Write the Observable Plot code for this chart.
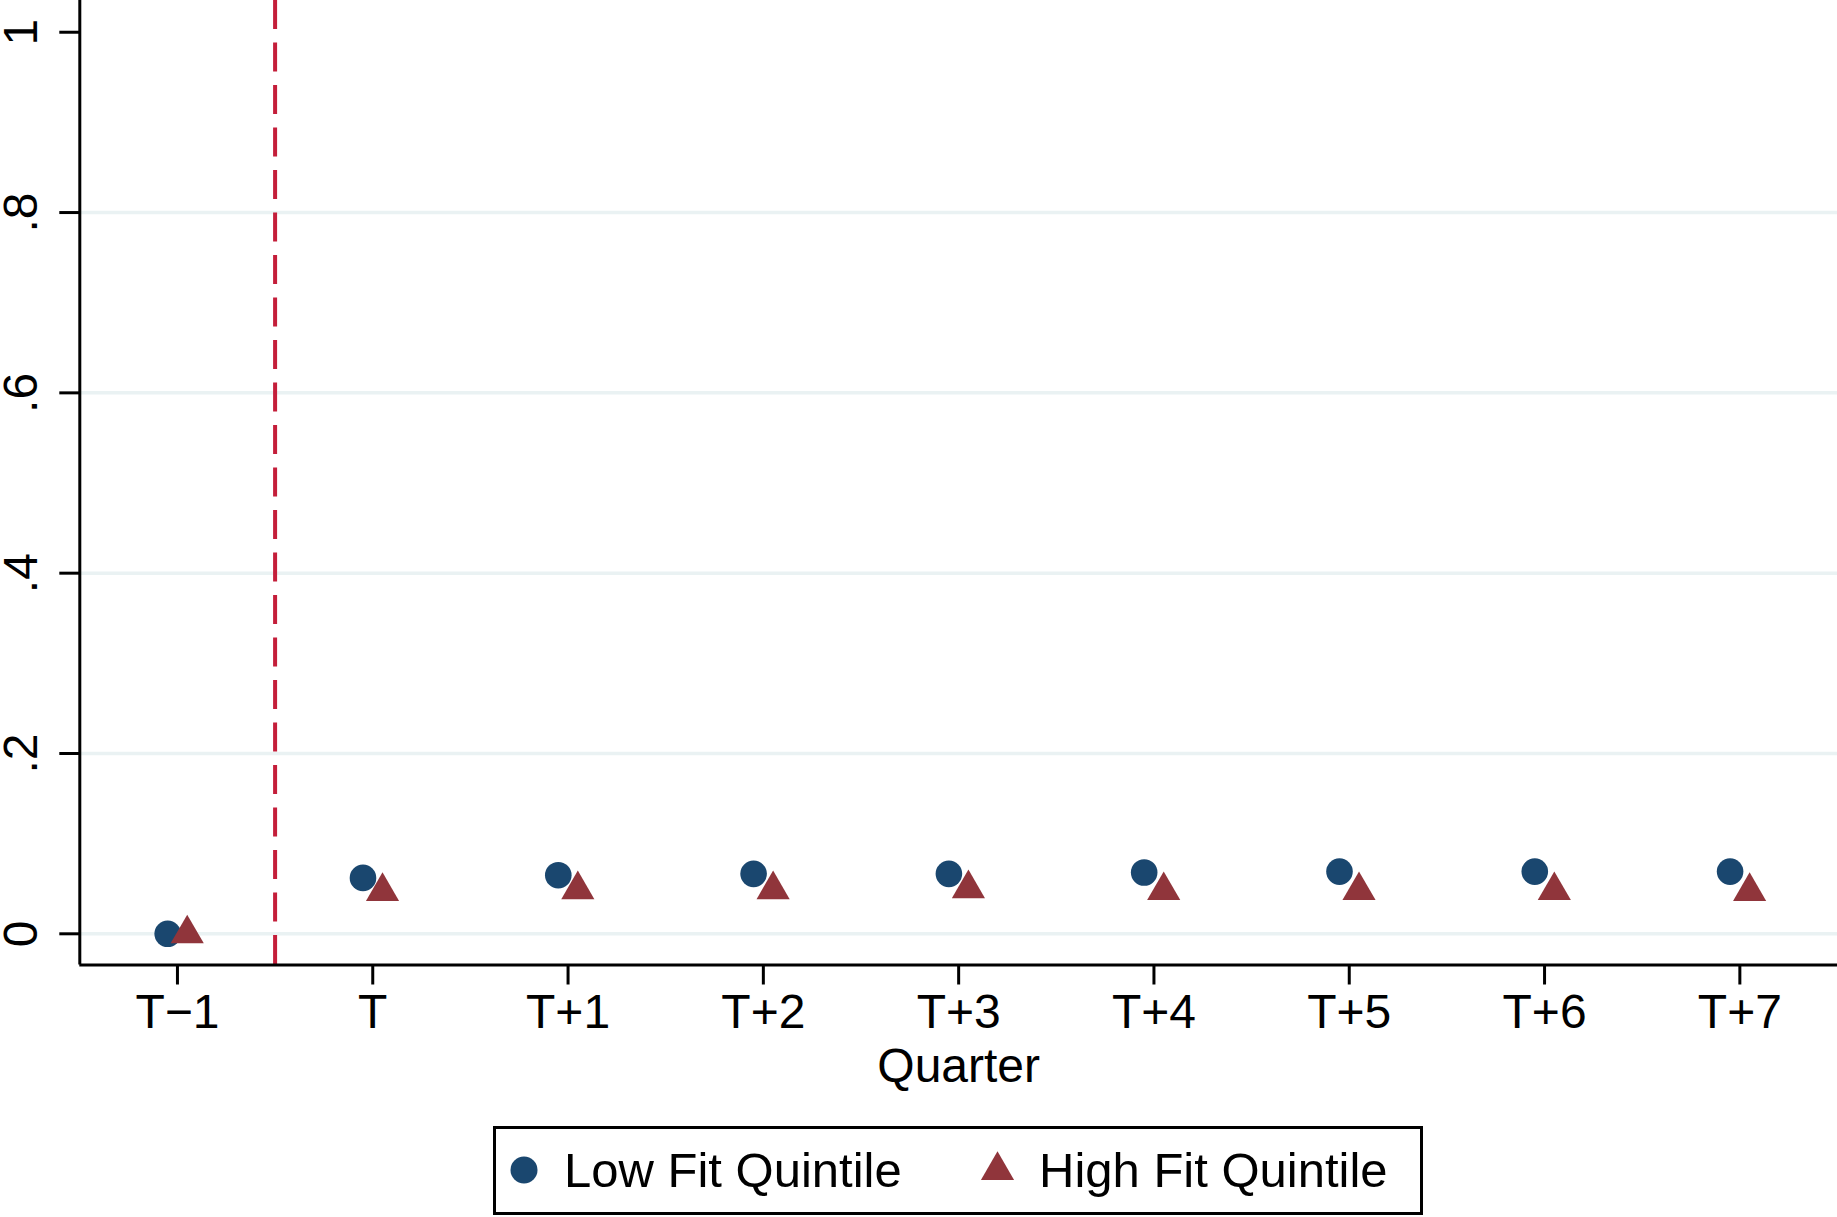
<!DOCTYPE html>
<html>
<head>
<meta charset="utf-8">
<script src="https://cdn.jsdelivr.net/npm/d3@7"></script>
<script src="https://cdn.jsdelivr.net/npm/@observablehq/plot@0.6"></script>
<style>
  html, body { margin: 0; padding: 0; background: #ffffff; }
  #wrap { position: relative; width: 1837px; height: 1217px; overflow: hidden; font-family: "Liberation Sans", Arial, sans-serif; }
  #legend { position: absolute; left: 493px; top: 1126px; }
</style>
</head>
<body>
<div id="wrap"><div id="chart"></div><div id="legend"></div></div>
<script>
// ---- data ----
const quarters = ["T\u22121", "T", "T+1", "T+2", "T+3", "T+4", "T+5", "T+6", "T+7"];
const lowFit  = [0, 0.062, 0.065, 0.0665, 0.0665, 0.068, 0.069, 0.069, 0.069];
const highFit = [0, 0.047, 0.049, 0.049, 0.050, 0.048, 0.048, 0.048, 0.047];
const seriesNames = ["Low Fit Quintile", "High Fit Quintile"];
const seriesColors = ["#1a476f", "#90353b"];
const yTicks = [0, 0.2, 0.4, 0.6, 0.8, 1];
const yTickLabels = ["0", ".2", ".4", ".6", ".8", "1"];
const gridValues = [0, 0.2, 0.4, 0.6, 0.8];
const eventLine = [0.5];          // boundary between T−1 and T
const xAxisTitle = "Quarter";
const xDomain = [-0.5, 8.5];
const yDomain = [-0.0346, 1.0352];
const dodge = 0.05;

const idx = quarters.map((q, i) => i);
const lowData = idx.map(i => ({i, q: quarters[i], v: lowFit[i]}));
const highData = idx.map(i => ({i, q: quarters[i], v: highFit[i]}));

const W = 1837, H = 1100, mTop = 0, mBottom = 135.5, mLeft = 79.3, mRight = 0;

const chart = Plot.plot({
  width: W,
  height: H,
  marginTop: mTop,
  marginBottom: mBottom,
  marginLeft: mLeft,
  marginRight: mRight,
  style: {fontFamily: '"Liberation Sans", Arial, sans-serif', fontSize: "48px", color: "black", background: "white", overflow: "visible"},
  x: {type: "linear", domain: xDomain},
  y: {type: "linear", domain: yDomain},
  marks: [
    Plot.ruleY(gridValues, {stroke: "#eaf2f3", strokeWidth: 3.5}),
    Plot.ruleX(eventLine, {stroke: "#c41e3a", strokeWidth: 4, strokeDasharray: "29,13.5"}),
    Plot.ruleX([xDomain[0]], {stroke: "black", strokeWidth: 3}),
    Plot.ruleY([yDomain[0]], {stroke: "black", strokeWidth: 3}),
    Plot.axisX(idx, {tickFormat: i => quarters[i], tickSize: 20, tickPadding: 9, strokeWidth: 3, label: null, fontSize: 48}),
    Plot.axisY(yTicks, {tickSize: 20, tickFormat: () => "", strokeWidth: 3, label: null}),
    Plot.text(yTicks, {x: xDomain[0], y: d => d, text: (d, j) => yTickLabels[j], rotate: -90, dx: -43, textAnchor: "middle", lineAnchor: "bottom", fontSize: 48, fill: "black"}),
    Plot.text([xAxisTitle], {frameAnchor: "bottom", lineAnchor: "bottom", dy: 116.5, fontSize: 48, fill: "black"}),
    Plot.dot(lowData, {x: d => d.i - dodge, y: "v", r: 13.3, symbol: "circle", fill: seriesColors[0], stroke: "none"}),
    Plot.dot(highData, {x: d => d.i + dodge, y: "v", r: 12.3, symbol: "triangle", fill: seriesColors[1], stroke: "none"})
  ]
});
document.getElementById("chart").appendChild(chart);

// ---- legend (below the SVG) ----
const lg = d3.select("#legend").append("svg")
  .attr("width", 931).attr("height", 90)
  .style("font-family", '"Liberation Sans", Arial, sans-serif');
lg.append("rect").attr("x", 1.5).attr("y", 1.5).attr("width", 927).attr("height", 86)
  .attr("fill", "white").attr("stroke", "black").attr("stroke-width", 3);
lg.append("circle").attr("cx", 31).attr("cy", 44).attr("r", 13.5).attr("fill", seriesColors[0]);
lg.append("path").attr("transform", "translate(504.5,44.5)")
  .attr("d", d3.symbol(d3.symbolTriangle, Math.PI * 12.3 * 12.3)()).attr("fill", seriesColors[1]);
lg.append("text").attr("x", 71).attr("y", 61).attr("font-size", 49).text(seriesNames[0]);
lg.append("text").attr("x", 546).attr("y", 61).attr("font-size", 49).text(seriesNames[1]);
</script>
</body>
</html>
